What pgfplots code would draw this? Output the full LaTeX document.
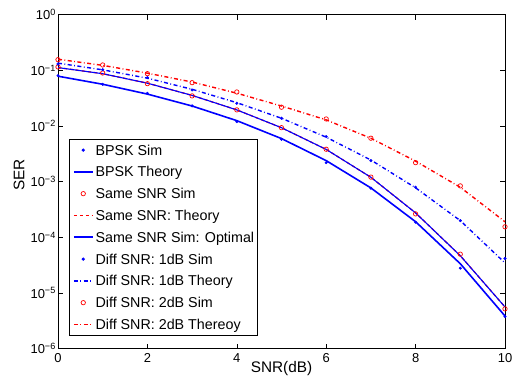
\documentclass[border=0pt]{standalone}
\usepackage{pgfplots}
\pgfplotsset{compat=1.18}
\usepackage{fontspec}
\setmainfont{Liberation Sans}
\definecolor{mblue}{RGB}{0,0,255}
\definecolor{mred}{RGB}{255,0,0}
\newcommand\ls{\rule[-5.8bp]{0pt}{21.8bp}}
\begin{document}
\fontsize{13}{15}\selectfont
\begin{tikzpicture}
\begin{axis}[
  name=ax, at={(0,0)}, anchor=south west,
  scale only axis, width=447bp, height=334bp,
  ymode=log, log basis y=10,
  xmin=0, xmax=10, ymin=1e-6, ymax=1,
  xtick={0,2,4,6,8,10},
  ytick={1e-6,1e-5,1e-4,1e-3,1e-2,1e-1,1},
  yticklabels={10\textsuperscript{−6},10\textsuperscript{−5},10\textsuperscript{−4},10\textsuperscript{−3},10\textsuperscript{−2},10\textsuperscript{−1},10\textsuperscript{0}},
  /pgf/number format/assume math mode=true,
  tick label style={font=\fontsize{13}{15}\selectfont},
  yticklabel style={inner xsep=2bp},
  major tick length=5bp, minor tick length=2.5bp,
  every tick/.style={black, line width=0.5bp},
  axis line style={black, line width=0.8bp},
  xlabel={SNR(dB)}, ylabel={SER},
  label style={font=\fontsize{15.4}{18}\selectfont},
  x label style={at={(axis description cs:0.5,-0.071)}, anchor=base, inner sep=0pt},
  y label style={at={(axis description cs:-0.087,0.52)}, anchor=center, inner sep=0pt},
  legend cell align=left,
  legend image code/.code={\draw[mark repeat=2,mark phase=2,#1] plot coordinates {(0bp,0bp)(9.5bp,0bp)(19bp,0bp)};},
  legend style={at={(rel axis cs:0.0253,0.038)}, anchor=south west, draw=black, line width=0.7bp, fill=white,
    font=\fontsize{14.35}{17}\selectfont, nodes={inner sep=0pt, text depth=}, row sep=0pt, column sep=2bp,
    inner xsep=3.3bp, inner ysep=0.3bp},
  bsim/.style={mblue, draw=mblue, only marks, mark=*, mark size=1.3bp, mark options={draw=mblue, fill=mblue}},
  rsim/.style={mred, draw=mred, only marks, mark=o, mark size=2.2bp, line width=0.7bp, mark options={draw=mred, fill=white}},
]
% BPSK Sim
\addplot[bsim] coordinates {
(0,0.0804)(1,0.0562)(2,0.0388)(3,0.0230)(4,0.0120)(5,0.00579)(6,0.00220)(7,7.64e-4)(8,1.87e-4)(9,2.80e-5)(10,3.80e-6)};
\addlegendentry{\ls BPSK Sim}
% BPSK Theory
\addplot[mblue, draw=mblue, line width=1.6bp] coordinates {
(0,0.0786)(1,0.0563)(2,0.0375)(3,0.0229)(4,0.0125)(5,0.00595)(6,0.00239)(7,7.73e-4)(8,1.91e-4)(9,3.36e-5)(10,3.87e-6)};
\addlegendentry{\ls BPSK Theory}
% Same SNR Sim
\addplot[rsim] coordinates {
(0,0.1151)(1,0.0897)(2,0.0577)(3,0.0348)(4,0.0195)(5,0.00935)(6,0.00383)(7,0.00121)(8,2.64e-4)(9,4.99e-5)(10,5.2e-6)};
\addlegendentry{\ls Same SNR Sim}
% Same SNR Theory
\addplot[mred, draw=mred, line width=1.25bp, dash pattern=on 3.5bp off 2.5bp, legend image post style={line width=1.6bp}] coordinates {
(0,0.1122)(1,0.0871)(2,0.0589)(3,0.0355)(4,0.0195)(5,0.00933)(6,0.00380)(7,0.00120)(8,2.75e-4)(9,4.68e-5)(10,5.62e-6)};
\addlegendentry{\ls Same SNR: Theory}
% Same SNR Optimal
\addplot[mblue, draw=mblue, line width=1.1bp, legend image post style={line width=1.6bp}] coordinates {
(0,0.1122)(1,0.0871)(2,0.0589)(3,0.0355)(4,0.0195)(5,0.00933)(6,0.00380)(7,0.00120)(8,2.75e-4)(9,4.68e-5)(10,5.62e-6)};
\addlegendentry{\ls Same SNR Sim: Optimal}
% Diff 1dB Sim
\addplot[bsim] coordinates {
(0,0.1303)(1,0.1030)(2,0.0740)(3,0.0445)(4,0.0256)(5,0.0138)(6,0.00646)(7,0.00239)(8,7.96e-4)(9,2.0e-4)(10,4.17e-5)};
\addlegendentry{\ls Diff SNR: 1dB Sim}
% Diff 1dB Theory
\addplot[mblue, draw=mblue, line width=1.4bp, dash pattern=on 4bp off 2.5bp on 0.8bp off 2.5bp] coordinates {
(0,0.1349)(1,0.1023)(2,0.0724)(3,0.0457)(4,0.0263)(5,0.0138)(6,0.00631)(7,0.00245)(8,7.76e-4)(9,2.0e-4)(10,3.47e-5)};
\addlegendentry{\ls Diff SNR: 1dB Theory}
% Diff 2dB Sim
\addplot[rsim] coordinates {
(0,0.1556)(1,0.1250)(2,0.0873)(3,0.0601)(4,0.0409)(5,0.0218)(6,0.0134)(7,0.00604)(8,0.00220)(9,8.41e-4)(10,1.55e-4)};
\addlegendentry{\ls Diff SNR: 2dB Sim}
% Diff 2dB Theory
\addplot[mred, draw=mred, line width=1.4bp, dash pattern=on 4bp off 2.5bp on 0.8bp off 2.5bp] coordinates {
(0,0.1585)(1,0.1230)(2,0.0891)(3,0.0617)(4,0.0389)(5,0.0229)(6,0.0129)(7,0.00603)(8,0.00234)(9,7.94e-4)(10,1.905e-4)};
\addlegendentry{\ls Diff SNR: 2dB Thereoy}
\end{axis}
\pgfresetboundingbox
\path[use as bounding box] (-58bp,-40.3bp) rectangle (455bp,348.7bp);
\end{tikzpicture}
\end{document}
